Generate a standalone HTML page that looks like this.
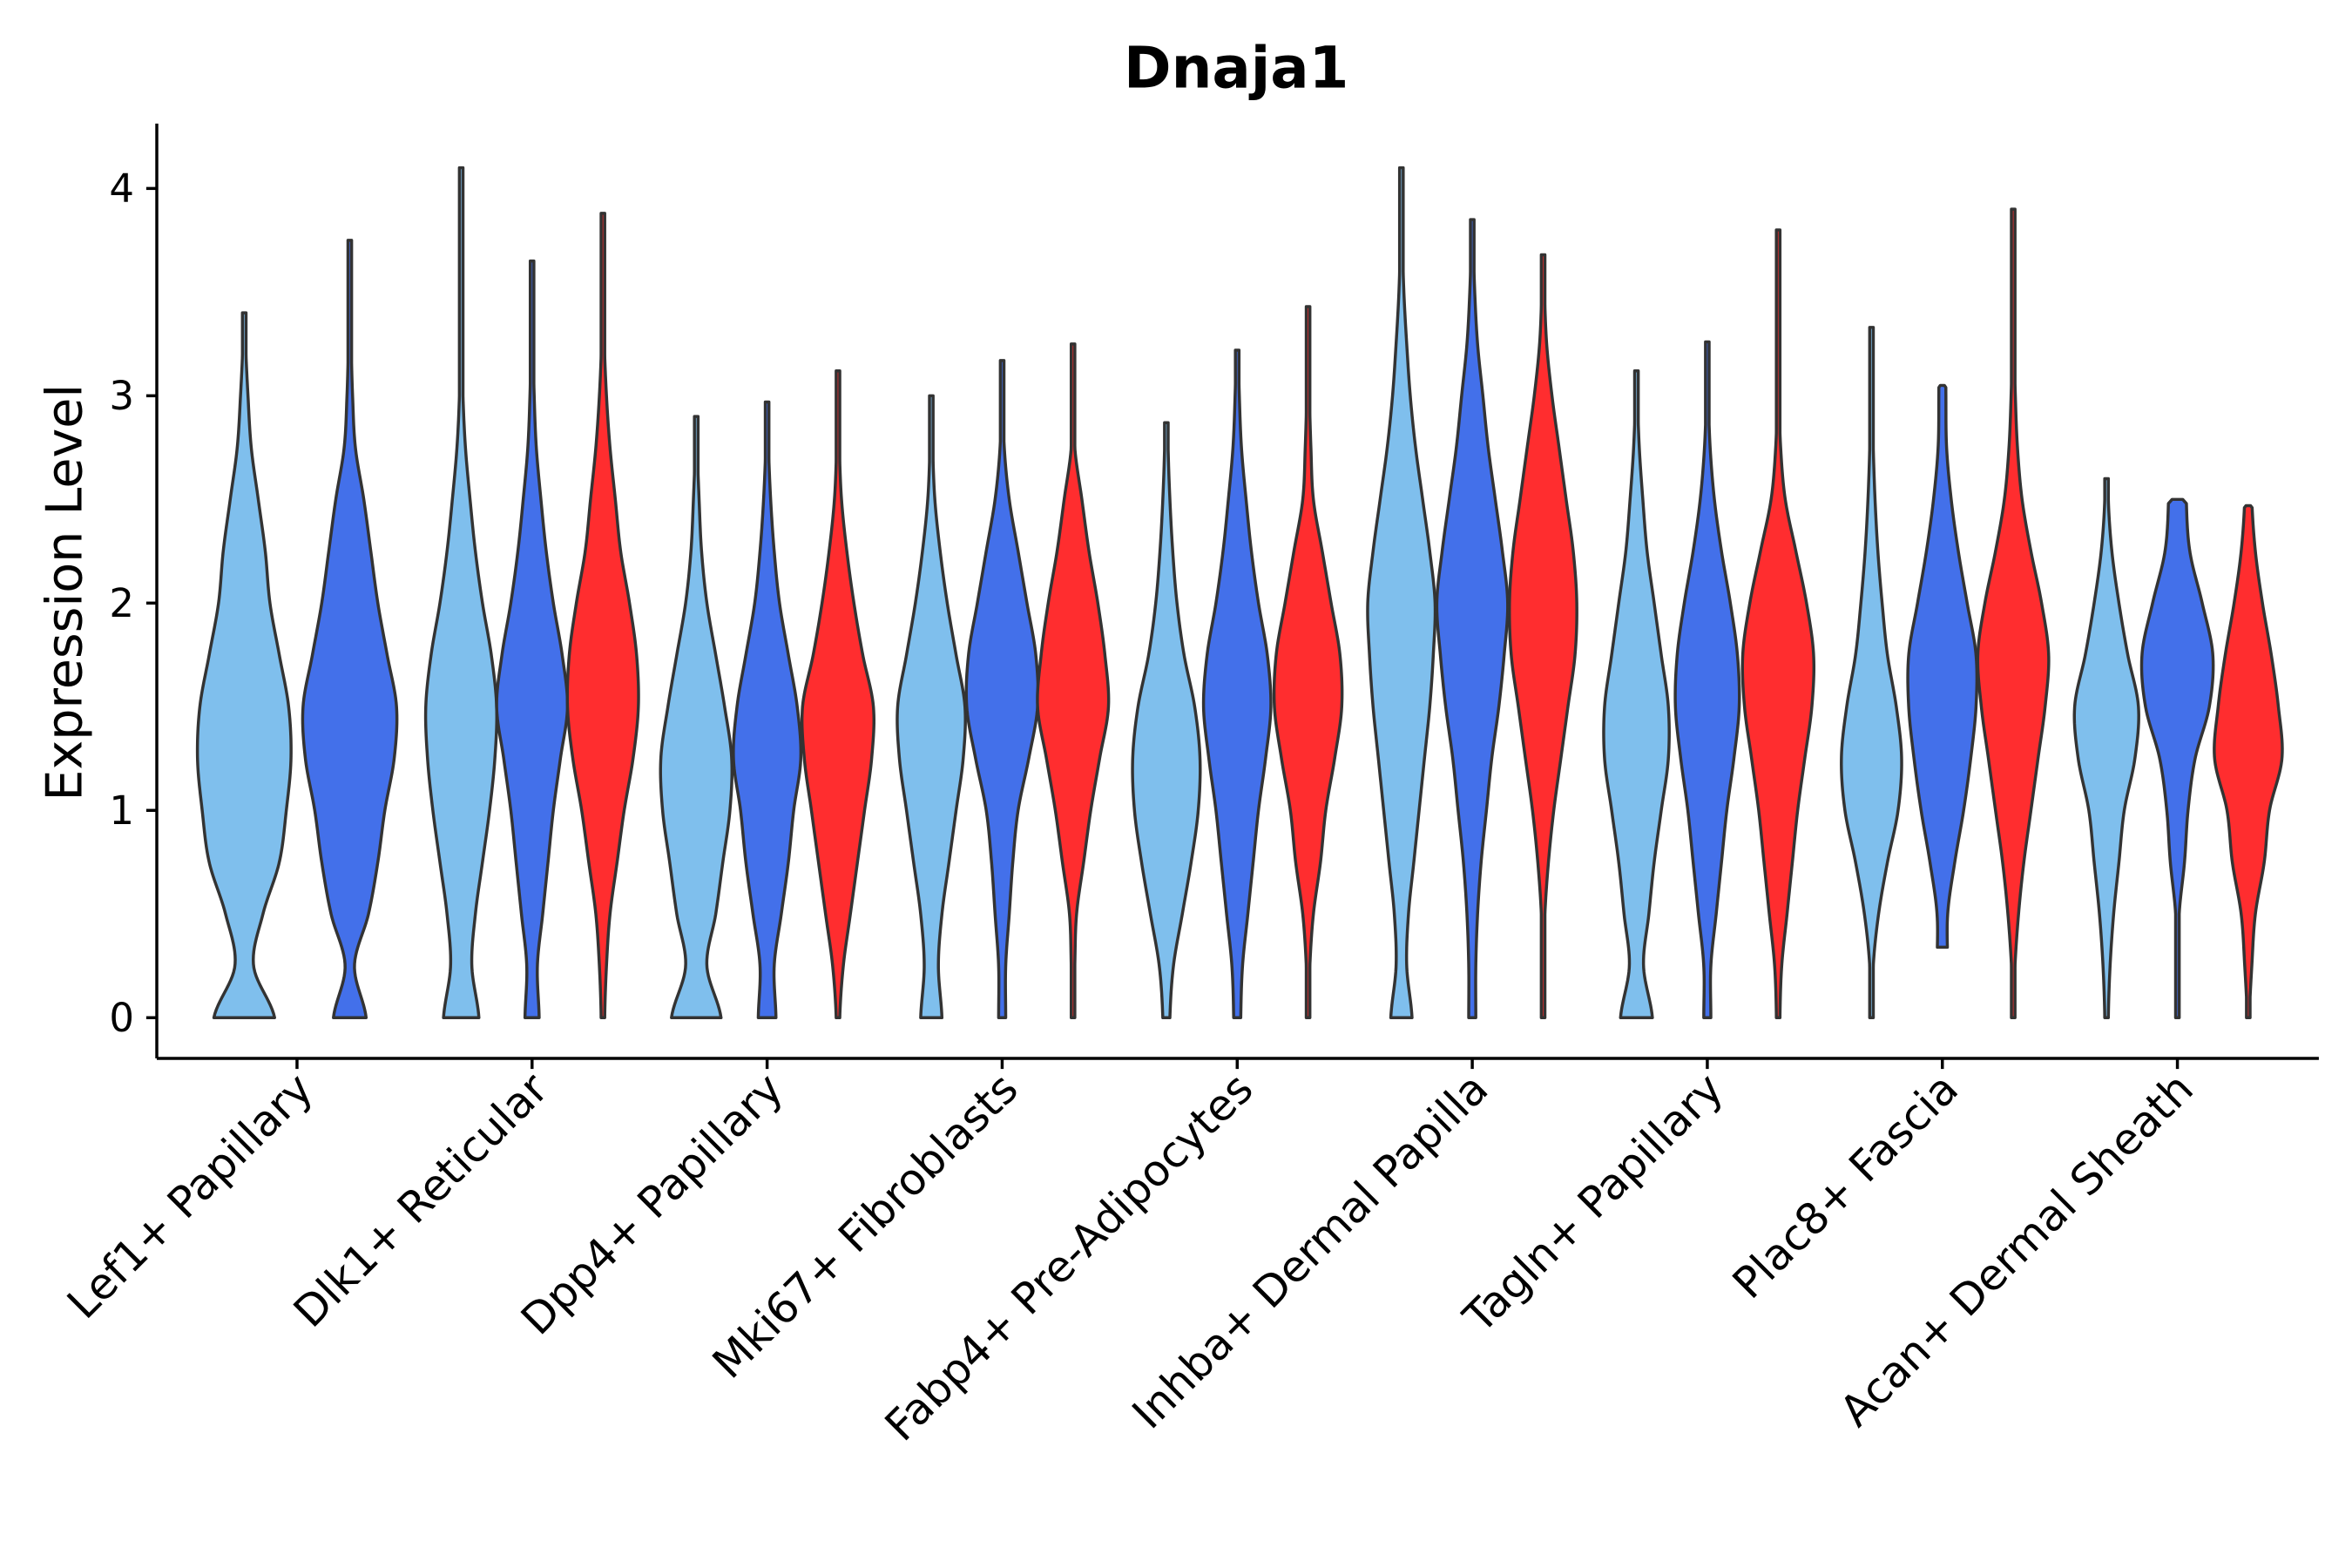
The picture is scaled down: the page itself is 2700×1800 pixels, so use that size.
<!DOCTYPE html>
<html><head><meta charset="utf-8"><style>
html,body{margin:0;padding:0;background:#fff}
svg{display:block}
text{font-family:"DejaVu Sans","Liberation Sans",sans-serif;fill:#000}
</style></head><body>
<svg id="chart" width="2700" height="1800" viewBox="0 0 1560 1040" xmlns="http://www.w3.org/2000/svg">
<text x="820" y="58" font-size="38" font-weight="bold" text-anchor="middle">Dnaja1</text>
<text transform="translate(54,393) rotate(-90)" font-size="33" text-anchor="middle">Expression Level</text>
<g id="plot"></g>
</svg>
<script>
const categories = ["Lef1+ Papillary","Dlk1+ Reticular","Dpp4+ Papillary","Mki67+ Fibroblasts","Fabp4+ Pre-Adipocytes","Inhba+ Dermal Papilla","Tagln+ Papillary","Plac8+ Fascia","Acan+ Dermal Sheath"];
const yTicks = [0,1,2,3,4];
const levels = [0,0.25,0.5,0.75,1,1.25,1.5,1.75,2,2.25,2.5,2.75,3,3.25,3.5,3.75,4];
const seriesNames = ["light","blue","red"];
const violinGroup = [0,0, 1,1,1, 2,2,2, 3,3,3, 4,4,4, 5,5,5, 6,6,6, 7,7,7, 8,8,8];
const violinSeries = [0,1, 0,1,2, 0,1,2, 0,1,2, 0,1,2, 0,1,2, 0,1,2, 0,1,2, 0,1,2];
const violinMin = [0,0, 0,0,0, 0,0,0, 0,0,0, 0,0,0, 0,0,0, 0,0,0, 0,0.34,0, 0,0,0];
const violinMax = [3.4,3.75, 4.1,3.65,3.88, 2.9,2.97,3.12, 3.0,3.17,3.25, 2.87,3.22,3.43, 4.1,3.85,3.68, 3.12,3.26,3.8, 3.33,3.05,3.9, 2.6,2.5,2.47];
const violinWidths = [
[0.65,0.2,0.4,0.75,0.9,1.0,0.95,0.75,0.55,0.45,0.3,0.15,0.08,0.03,0.02,0.02,0.02],
[0.35,0.1,0.4,0.6,0.75,0.95,1.0,0.8,0.6,0.45,0.3,0.12,0.06,0.03,0.02,0.02,0.02],
[0.5,0.3,0.4,0.6,0.8,0.95,1.0,0.85,0.6,0.4,0.25,0.12,0.05,0.03,0.02,0.02,0.02],
[0.2,0.15,0.3,0.45,0.6,0.8,1.0,0.85,0.6,0.4,0.25,0.12,0.06,0.03,0.02,0.02,0.02],
[0.05,0.1,0.2,0.4,0.6,0.85,1.0,0.95,0.75,0.5,0.35,0.2,0.1,0.04,0.02,0.02,0.02],
[0.7,0.3,0.55,0.75,0.95,1.0,0.8,0.55,0.3,0.15,0.08,0.03,0.02,0.02,0.02,0.02,0.02],
[0.25,0.2,0.4,0.6,0.75,0.95,0.85,0.6,0.35,0.2,0.1,0.04,0.02,0.02,0.02,0.02,0.02],
[0.05,0.15,0.35,0.55,0.75,0.95,1.0,0.7,0.45,0.25,0.1,0.04,0.02,0.02,0.02,0.02,0.02],
[0.3,0.2,0.3,0.5,0.7,0.9,0.95,0.7,0.45,0.25,0.1,0.04,0.02,0.02,0.02,0.02,0.02],
[0.1,0.1,0.2,0.3,0.45,0.75,1.0,0.95,0.7,0.45,0.2,0.06,0.03,0.02,0.02,0.02,0.02],
[0.02,0.05,0.1,0.3,0.5,0.75,1.0,0.9,0.7,0.45,0.25,0.05,0.03,0.02,0.02,0.02,0.02],
[0.1,0.2,0.45,0.7,0.9,0.95,0.8,0.5,0.3,0.18,0.1,0.05,0.04,0.04,0.04,0.04,0.04],
[0.1,0.15,0.3,0.45,0.6,0.8,0.95,0.85,0.6,0.4,0.25,0.12,0.06,0.03,0.02,0.02,0.02],
[0.02,0.05,0.15,0.35,0.5,0.75,0.95,0.9,0.65,0.4,0.15,0.08,0.04,0.03,0.02,0.02,0.02],
[0.3,0.15,0.2,0.35,0.5,0.65,0.8,0.9,0.95,0.8,0.6,0.4,0.25,0.15,0.07,0.03,0.02],
[0.1,0.1,0.15,0.25,0.4,0.55,0.75,0.9,1.0,0.85,0.65,0.45,0.3,0.15,0.07,0.03,0.02],
[0.01,0.02,0.05,0.15,0.3,0.5,0.7,0.9,0.95,0.85,0.65,0.45,0.25,0.1,0.04,0.02,0.02],
[0.45,0.2,0.35,0.5,0.7,0.9,0.9,0.7,0.5,0.3,0.18,0.08,0.03,0.02,0.02,0.02,0.02],
[0.1,0.1,0.25,0.4,0.55,0.75,0.9,0.85,0.65,0.4,0.2,0.08,0.03,0.02,0.02,0.02,0.02],
[0.05,0.1,0.25,0.4,0.55,0.75,0.95,1.0,0.8,0.5,0.2,0.07,0.03,0.02,0.02,0.02,0.02],
[0.03,0.05,0.2,0.45,0.75,0.85,0.7,0.45,0.3,0.18,0.1,0.05,0.03,0.02,0.02,0.02,0.02],
[0.15,0.15,0.15,0.35,0.6,0.8,0.95,0.95,0.7,0.45,0.25,0.12,0.1,0.1,0.1,0.1,0.1],
[0.01,0.05,0.15,0.3,0.5,0.7,0.9,1.0,0.8,0.5,0.25,0.12,0.06,0.03,0.02,0.02,0.02],
[0.05,0.1,0.2,0.35,0.5,0.8,0.9,0.6,0.35,0.15,0.05,0.05,0.05,0.05,0.05,0.05,0.05],
[0.02,0.03,0.05,0.2,0.3,0.5,0.9,1.0,0.7,0.35,0.25,0.25,0.25,0.25,0.25,0.25,0.25],
[0.03,0.1,0.2,0.45,0.6,0.95,0.85,0.65,0.4,0.2,0.1,0.1,0.1,0.1,0.1,0.1,0.1]
];
const colors = ["#7fbfed","#4370ea","#ff2d2f"];
const NS = "http://www.w3.org/2000/svg";
const L = 104, R = 1538, T = 82, B = 702;
const y = v => 675 - v * 137.5;
const groupX = i => 197 + i * 155.9;
function violinX(g, s, n) { return n === 2 ? groupX(g) + (s === 0 ? -35 : 35) : groupX(g) + (s - 1) * 47; }
function widthAt(w, lv) {
  const n = w.length;
  let k = Math.floor(lv / 0.25);
  if (k >= n - 1) return w[n - 1];
  if (k < 0) k = 0;
  const t = (lv - levels[k]) / 0.25;
  const p0 = w[Math.max(k - 1, 0)], p1 = w[k], p2 = w[k + 1], p3 = w[Math.min(k + 2, n - 1)];
  const t2 = t * t, t3 = t2 * t;
  const v = 0.5 * ((2 * p1) + (-p0 + p2) * t + (2 * p0 - 5 * p1 + 4 * p2 - p3) * t2 + (-p0 + 3 * p1 - 3 * p2 + p3) * t3);
  return Math.max(v, 0.02);
}
function el(tag, attrs, parent) { const e = document.createElementNS(NS, tag); for (const k in attrs) e.setAttribute(k, attrs[k]); parent.appendChild(e); return e; }
const plot = document.getElementById("plot");
const counts = categories.map((c, g) => violinGroup.filter(x => x === g).length);
violinGroup.forEach((g, i) => {
  const n = counts[g], s = violinSeries[i];
  const cx = violinX(g, s, n), half = n === 2 ? 31 : 23.5;
  const mn = violinMin[i], mx = violinMax[i], w = violinWidths[i];
  const pts = [];
  const step = 0.02;
  for (let v = mn; v < mx; v += step) pts.push([v, Math.max(widthAt(w, v) * half, 1.2)]);
  pts.push([mx, Math.max(widthAt(w, mx) * half * 0.6, 1.2)]);
  let d = "M" + (cx - pts[0][1]).toFixed(2) + "," + y(pts[0][0]).toFixed(2);
  pts.forEach(p => d += " L" + (cx - p[1]).toFixed(2) + "," + y(p[0]).toFixed(2));
  for (let k = pts.length - 1; k >= 0; k--) d += " L" + (cx + pts[k][1]).toFixed(2) + "," + y(pts[k][0]).toFixed(2);
  d += " Z";
  const p = el("path", { d: d, fill: colors[s], stroke: "#333", "stroke-width": 2, "stroke-linejoin": "round" }, plot);
  
  
});
const axY = el("line", { x1: L, y1: T, x2: L, y2: B, stroke: "#000", "stroke-width": 2 }, plot);


const axX = el("line", { x1: L, y1: B, x2: R, y2: B, stroke: "#000", "stroke-width": 2 }, plot);


yTicks.forEach(v => {
  el("line", { x1: L - 7, y1: y(v), x2: L, y2: y(v), stroke: "#000", "stroke-width": 2 }, plot);
  const t = el("text", { x: L - 15, y: y(v) + 9, "font-size": 26, "text-anchor": "end" }, plot);
  t.textContent = v;
  
  
});
categories.forEach((c, g) => {
  const x = groupX(g);
  el("line", { x1: x, y1: B, x2: x, y2: B + 7, stroke: "#000", "stroke-width": 2 }, plot);
  const t = el("text", { transform: "translate(" + (x + 12) + "," + (B + 22) + ") rotate(-45)", "font-size": 28.5, "text-anchor": "end" }, plot);
  t.textContent = c;
  
  
});
</script>
</body></html>
